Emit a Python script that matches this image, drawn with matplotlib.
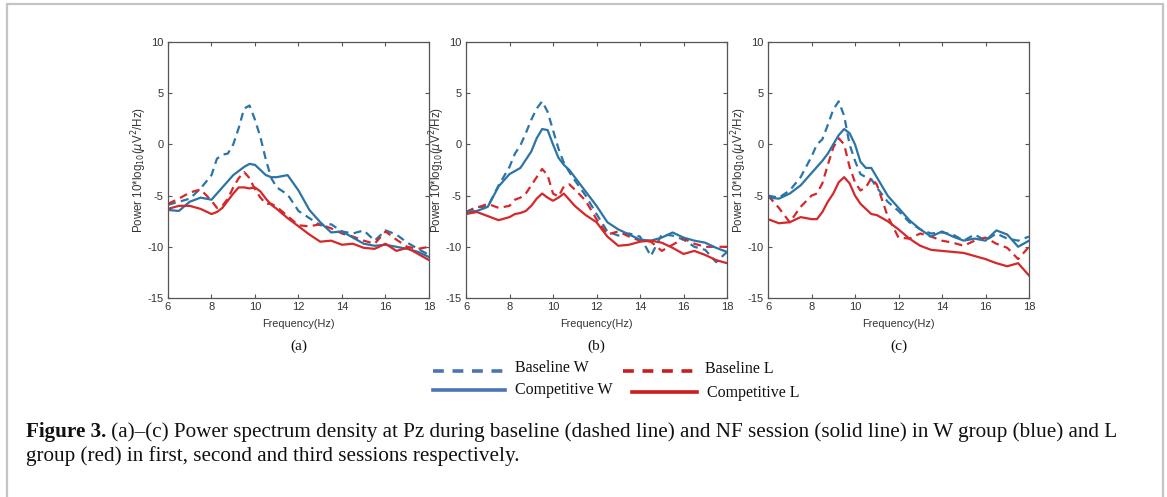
import matplotlib
matplotlib.use("Agg")
import matplotlib.pyplot as plt
from matplotlib.lines import Line2D
from matplotlib.patches import Rectangle

plt.rcParams["axes.unicode_minus"] = False

# ---------------- data ----------------
freq = [6, 6.5, 7, 7.5, 8, 8.25, 8.5, 8.75, 9, 9.25, 9.5, 9.75, 10, 10.25, 10.5,
        10.75, 11, 11.5, 12, 12.5, 13, 13.5, 14, 14.5, 15, 15.5, 16, 16.5, 17, 17.5, 18]

# panel (a)
a_base_w = [-5.9, -5.6, -5.3, -4.3, -3.0, -1.4, -1.0, -0.9, 0.0, 1.6, 3.5, 3.8, 2.4, 0.7, -1.5,
            -3.3, -4.2, -4.9, -6.5, -7.2, -7.9, -7.8, -8.5, -8.7, -8.4, -9.4, -8.4, -8.8, -9.6, -10.2, -10.8]
a_comp_w = [-6.4, -6.5, -5.6, -5.2, -5.4, -4.8, -4.2, -3.6, -3.0, -2.6, -2.2, -1.9, -2.0, -2.5, -3.0,
            -3.2, -3.2, -3.0, -4.5, -6.4, -7.6, -8.6, -8.5, -9.1, -9.7, -9.9, -9.8, -10.0, -10.2, -10.5, -11.0]
a_base_l = [-5.8, -5.3, -4.7, -4.4, -5.5, -6.2, -6.0, -5.3, -4.2, -3.3, -2.7, -3.3, -4.4, -5.2, -5.8,
            -5.8, -6.1, -7.0, -7.9, -8.0, -7.8, -8.2, -8.7, -9.0, -9.4, -9.7, -8.5, -9.3, -10.0, -10.2, -10.0]
a_comp_l = [-6.3, -6.0, -6.0, -6.3, -6.8, -6.6, -6.2, -5.5, -4.8, -4.2, -4.2, -4.3, -4.2, -4.6, -5.3,
            -5.9, -6.3, -7.2, -8.0, -8.8, -9.5, -9.4, -9.8, -9.7, -10.1, -10.2, -9.7, -10.4, -10.1, -10.7, -11.3]

# panel (b)
b_base_w = [-6.6, -6.1, -6.1, -4.0, -2.2, -0.9, -0.1, 1.1, 2.4, 3.5, 4.2, 3.2, 1.4, -0.4, -1.8,
            -2.7, -3.5, -5.0, -6.8, -8.5, -8.9, -8.7, -9.0, -10.9, -8.8, -8.9, -9.3, -10.0, -10.3, -11.5, -10.5]
b_comp_w = [-6.6, -6.5, -6.1, -4.1, -2.9, -2.6, -2.3, -1.5, -0.7, 0.6, 1.5, 1.4, 0.0, -1.3, -2.0,
            -2.5, -3.2, -4.6, -6.0, -7.6, -8.3, -8.8, -9.3, -9.4, -9.1, -8.6, -9.1, -9.4, -9.6, -10.1, -10.5]
b_base_l = [-6.6, -6.2, -5.8, -6.2, -6.0, -5.4, -5.2, -4.8, -4.0, -3.2, -2.4, -3.0, -4.8, -5.1, -4.1,
            -3.9, -4.4, -5.5, -7.3, -8.8, -8.5, -9.0, -9.4, -9.5, -10.4, -9.8, -9.2, -9.7, -10.0, -10.0, -10.0]
b_comp_l = [-6.8, -6.6, -7.0, -7.4, -7.1, -6.8, -6.7, -6.5, -6.0, -5.3, -4.8, -5.2, -5.5, -5.2, -4.8,
            -5.4, -6.0, -6.9, -7.6, -9.0, -9.9, -9.8, -9.5, -9.4, -9.6, -10.1, -10.7, -10.4, -10.8, -11.3, -11.6]

# panel (c)
c_base_w = [-5.0, -5.2, -4.5, -3.2, -1.2, 0.0, 0.5, 1.9, 3.4, 4.2, 2.8, 0.0, -1.6, -2.9, -3.2,
            -3.4, -4.2, -5.6, -6.5, -7.6, -8.3, -8.7, -8.6, -8.8, -9.4, -8.8, -9.4, -8.7, -9.2, -9.4, -9.0]
c_comp_w = [-5.2, -5.3, -4.8, -4.0, -2.8, -2.2, -1.6, -0.9, 0.0, 0.9, 1.5, 1.1, 0.0, -1.7, -2.3,
            -2.3, -3.2, -5.0, -6.2, -7.4, -8.3, -9.0, -8.5, -9.0, -9.4, -9.2, -9.4, -8.4, -8.8, -10.0, -9.4]
c_base_l = [-5.0, -6.2, -7.6, -6.1, -5.0, -4.8, -3.8, -2.0, -0.3, 0.6, 0.0, -2.2, -3.7, -4.5, -4.2,
            -3.3, -3.9, -7.0, -9.1, -9.2, -8.7, -9.0, -9.4, -9.6, -9.9, -9.4, -9.1, -9.7, -10.1, -11.2, -10.0]
c_comp_l = [-7.3, -7.7, -7.6, -7.1, -7.3, -7.3, -6.6, -5.6, -4.8, -3.7, -3.2, -3.8, -5.0, -5.8, -6.3,
            -6.8, -6.9, -7.5, -8.3, -9.2, -9.9, -10.3, -10.4, -10.5, -10.6, -10.9, -11.2, -11.6, -11.9, -11.6, -12.8]

panel_labels = ["(a)", "(b)", "(c)"]
x_ticks = [6, 8, 10, 12, 14, 16, 18]
y_ticks = [-15, -10, -5, 0, 5, 10]
legend_labels = ["Baseline W", "Baseline L", "Competitive W", "Competitive L"]
caption_bold = "Figure 3."
caption_rest = (" (a)–(c) Power spectrum density at Pz during baseline (dashed line) and NF session "
                "(solid line) in W group (blue) and L")
caption_line2 = "group (red) in first, second and third sessions respectively."

panels = [
    (a_base_w, a_comp_w, a_base_l, a_comp_l),
    (b_base_w, b_comp_w, b_base_l, b_comp_l),
    (c_base_w, c_comp_w, c_base_l, c_comp_l),
]

# ---------------- figure ----------------
W, H = 1167, 497
fig = plt.figure(figsize=(W / 100, H / 100), dpi=100)

BLUE = "#2b74a6"
RED = "#d4282a"
LEG_BLUE = "#4a74b6"
LEG_RED = "#cc1c1c"
AX_COL = "#555555"

# outer frame
fig.add_artist(Rectangle((7 / W, -0.05), (1163 - 7) / W, (497 - 4) / H + 0.05,
                         transform=fig.transFigure, fill=False, edgecolor="#c4c4c4", lw=1.6))

lefts = [168, 466, 768]
ax_w = 261
top, bottom = 42, 298
for i, (bw, cw, bl, cl) in enumerate(panels):
    ax = fig.add_axes([lefts[i] / W, (H - bottom) / H, ax_w / W, (bottom - top) / H])
    dash = dict(lw=1.6, dashes=(3.6, 2.4))
    ax.plot(freq, bw, color=BLUE, **dash)
    ax.plot(freq, bl, color=RED, **dash)
    ax.plot(freq, cw, color=BLUE, lw=1.6)
    ax.plot(freq, cl, color=RED, lw=1.6)
    ax.set_xlim(6, 18)
    ax.set_ylim(-15, 10)
    ax.set_xticks(x_ticks)
    ax.set_yticks(y_ticks)
    ax.tick_params(direction="in", length=3, width=0.8, colors=AX_COL, labelsize=8,
                   top=True, right=True, labelcolor="#333333", pad=3)
    for s in ax.spines.values():
        s.set_color(AX_COL)
        s.set_linewidth(0.9)
    for lab in ax.get_xticklabels() + ax.get_yticklabels():
        lab.set_family("Liberation Sans")
    ax.set_xlabel("Frequency(Hz)", fontsize=7.8, family="Liberation Sans", color="#333333", labelpad=5)
    ax.set_ylabel(r"Power 10*log$_{10}$($\mu$V$^2$/Hz)", fontsize=8.3, family="Liberation Sans",
                  color="#333333", labelpad=-1)
    cx = (lefts[i] + ax_w / 2) / W
    fig.text(cx, 1 - 346 / H, panel_labels[i], ha="center", va="center",
             fontsize=11, family="Liberation Serif", color="#111111")

# legend (drawn manually to match irregular layout)
def leg_line(x0, x1, y, color, dashed):
    kw = dict(transform=fig.transFigure, color=color, lw=2.6)
    if dashed:
        kw["dashes"] = (3.0, 2.4)
    fig.add_artist(Line2D([x0 / W, x1 / W], [1 - y / H, 1 - y / H], **kw))

leg_line(433, 505, 371, LEG_BLUE, True)
leg_line(623, 697, 371, LEG_RED, True)
leg_line(433, 505, 390, LEG_BLUE, False)
leg_line(632, 697, 392, LEG_RED, False)
leg_pos = [(515, 368), (705, 369), (515, 390), (707, 393)]
for lbl, (x, y) in zip(legend_labels, leg_pos):
    fig.text(x / W, 1 - y / H, lbl, ha="left", va="center", fontsize=11.5,
             family="Liberation Serif", color="#111111")

# caption
CAP_FS = 15.2
t = fig.text(26 / W, 1 - 432 / H, caption_bold, ha="left", va="center", fontsize=CAP_FS,
             family="Liberation Serif", weight="bold", color="#111111")
fig.canvas.draw()
bb = t.get_window_extent()
fig.text(bb.x1 / W, 1 - 432 / H, caption_rest, ha="left", va="center", fontsize=CAP_FS,
         family="Liberation Serif", color="#111111")
fig.text(26 / W, 1 - 456 / H, caption_line2, ha="left", va="center", fontsize=CAP_FS,
         family="Liberation Serif", color="#111111")

fig.savefig("out.png", dpi=100)
